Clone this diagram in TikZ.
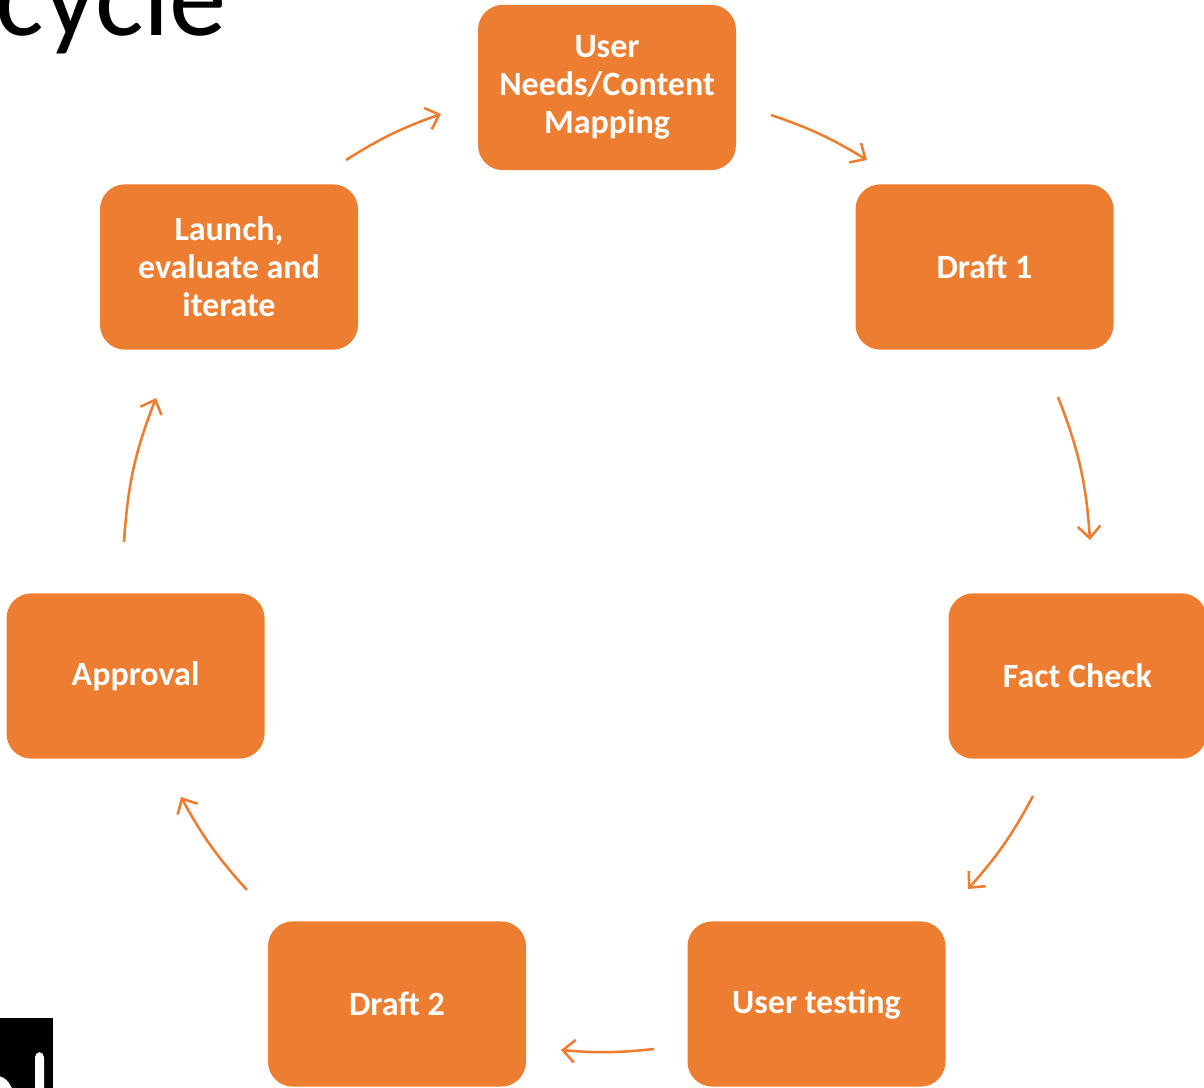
\documentclass[tikz,border=0pt]{standalone}
\usepackage{fontspec}
\setmainfont{Carlito}
\usetikzlibrary{arrows.meta}
\definecolor{accent}{HTML}{ED7D31}
\tikzset{
  stepbox/.style={fill=accent, draw=none, rounded corners=18.75pt,
    minimum width=193.5pt, minimum height=124pt, inner sep=0pt,
    text=white, align=center,
    font=\fontsize{25.5}{28.5}\selectfont\bfseries},
  cyc/.style={draw=accent, line width=1.9pt,
    -{Straight Barb[length=9pt, width=17pt, line width=1.9pt]}},
}
\begin{document}
\begin{tikzpicture}[x=0.75pt, y=-0.75pt]
\useasboundingbox (0,0) rectangle (1204,1088);
\clip (0,0) rectangle (1204,1088);
\fill[white] (0,0) rectangle (1204,1088);
% title fragment
\node[anchor=base east, inner sep=0pt, font=\fontsize{86}{96}\selectfont] (title) at (227,36) {cycle};
% logo fragment
\fill[black] (0,1018) rectangle (53,1088);
\fill[white, rounded corners=4pt] (35,1052) rectangle (44,1100);
\fill[white] (-20,1100) arc[start angle=180, end angle=0, x radius=17, y radius=-24];
% boxes
\node[stepbox] (top) at (607,87.5) {User\\Needs/Content\\Mapping};
\node[stepbox] (d1) at (984.5,267) {Draft 1};
\node[stepbox] (fc) at (1077.5,676) {Fact Check};
\node[stepbox] (ut) at (816.5,1004) {User testing};
\node[stepbox] (d2) at (397,1004) {Draft 2};
\node[stepbox] (ap) at (135.5,676) {Approval};
\node[stepbox] (la) at (229,267) {Launch,\\evaluate and\\iterate};
% connector end points
\coordinate (a1s) at (771,115);  \coordinate (a1e) at (867,160);
\coordinate (a2s) at (1058,397); \coordinate (a2e) at (1090,540);
\coordinate (a3s) at (1033,796); \coordinate (a3e) at (968,889);
\coordinate (a4s) at (654,1049); \coordinate (a4e) at (561,1050);
\coordinate (a5s) at (247,890);  \coordinate (a5e) at (181,797);
\coordinate (a6s) at (124,542);  \coordinate (a6e) at (156,398);
\coordinate (a7s) at (346,160);  \coordinate (a7e) at (441,114);
\draw[cyc] (a1s) to[bend left=6.3] (a1e);
\draw[cyc] (a2s) to[bend left=8.7] (a2e);
\draw[cyc] (a3s) to[bend left=6.7] (a3e);
\draw[cyc] (a4s) to[bend left=5.5] (a4e);
\draw[cyc] (a5s) to[bend left=6.7] (a5e);
\draw[cyc] (a6s) to[bend left=8.8] (a6e);
\draw[cyc] (a7s) to[bend left=6.3] (a7e);
\end{tikzpicture}
\end{document}
